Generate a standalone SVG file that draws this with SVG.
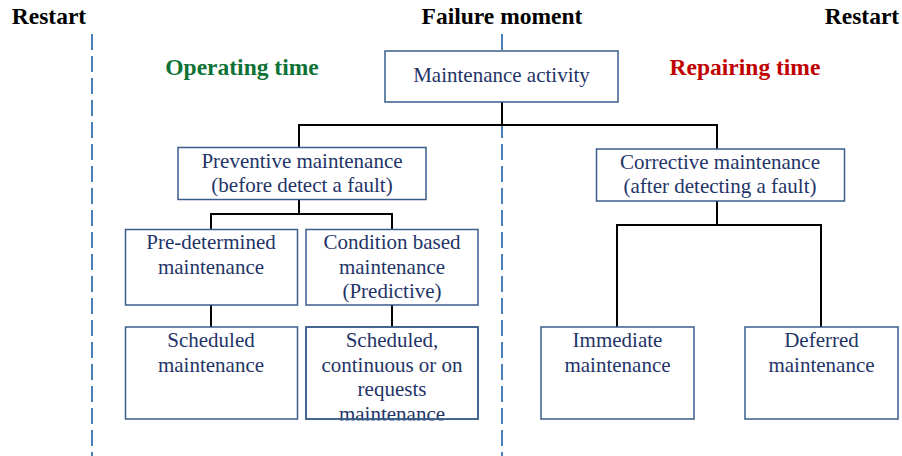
<svg xmlns="http://www.w3.org/2000/svg" width="902" height="456" viewBox="0 0 902 456">
<style>
.box{fill:#fff;stroke:#385D8A;stroke-width:1.5}
.t{font-family:"Liberation Serif","Times New Roman",serif;font-size:21px;fill:#1F3468;text-anchor:middle}
.h{font-family:"Liberation Serif","Times New Roman",serif;font-size:23.5px;font-weight:bold;text-anchor:middle}
.dash{stroke:#4A7EBB;stroke-width:2;stroke-dasharray:16 6;fill:none}
.conn{stroke:#000;stroke-width:2;fill:none}
</style>
<defs>
<clipPath id="clipB"><rect x="300" y="320" width="190" height="100.5"/></clipPath>
</defs>
<rect width="902" height="456" fill="#fff"/>
<g id="timeline">
<line class="dash" x1="92" y1="34" x2="92" y2="456"/>
<line class="dash" x1="502" y1="34" x2="502" y2="456"/>
</g>
<g id="labels">
<text class="h" x="49" y="24" fill="#000">Restart</text>
<text class="h" x="502" y="24" fill="#000">Failure moment</text>
<text class="h" x="862" y="24" fill="#000">Restart</text>
<text class="h" x="242" y="75" fill="#0E7236">Operating time</text>
<text class="h" x="745" y="75" fill="#C00000">Repairing time</text>
</g>
<g id="connectors">
<polyline class="conn" points="502,102 502,125"/>
<polyline class="conn" points="299,148 299,125 717,125 717,150"/>
<polyline class="conn" points="299,199 299,214"/>
<polyline class="conn" points="211,229 211,214 392,214 392,229"/>
<polyline class="conn" points="211,305 211,327"/>
<polyline class="conn" points="392,305 392,327"/>
<polyline class="conn" points="717,201 717,225"/>
<polyline class="conn" points="617,327 617,225 821,225 821,327"/>
</g>
<g id="maintenance-activity">
<rect class="box" x="385" y="51" width="233" height="51"/>
<text class="t" x="501.5" y="82">Maintenance activity</text>
</g>
<g id="preventive">
<rect class="box" x="178" y="147.5" width="248" height="52"/>
<text class="t" x="302" y="168">Preventive maintenance</text>
<text class="t" x="302" y="192">(before detect a fault)</text>
</g>
<g id="corrective">
<rect class="box" x="596.5" y="149" width="248" height="52"/>
<text class="t" x="720" y="169">Corrective maintenance</text>
<text class="t" x="720" y="193">(after detecting a fault)</text>
</g>
<g id="predetermined">
<rect class="box" x="125.5" y="229.5" width="172" height="75.5"/>
<text class="t" x="211" y="249">Pre-determined</text>
<text class="t" x="211" y="274">maintenance</text>
</g>
<g id="condition-based">
<rect class="box" x="306" y="229.5" width="172" height="75.5"/>
<text class="t" x="392" y="249">Condition based</text>
<text class="t" x="392" y="274">maintenance</text>
<text class="t" x="392" y="298">(Predictive)</text>
</g>
<g id="scheduled">
<rect class="box" x="125.5" y="327" width="172" height="92"/>
<text class="t" x="211" y="347">Scheduled</text>
<text class="t" x="211" y="372">maintenance</text>
</g>
<g id="scheduled-continuous">
<rect class="box" x="306" y="327" width="172" height="92"/>
<g clip-path="url(#clipB)">
<text class="t" x="392" y="347">Scheduled,</text>
<text class="t" x="392" y="372">continuous or on</text>
<text class="t" x="392" y="396">requests</text>
<text class="t" x="392" y="421">maintenance</text>
</g>
<rect x="306" y="327" width="172" height="92" fill="none" stroke="#385D8A" stroke-width="1.5"/>
</g>
<g id="immediate">
<rect class="box" x="541" y="327" width="153" height="92"/>
<text class="t" x="617.5" y="347">Immediate</text>
<text class="t" x="617.5" y="372">maintenance</text>
</g>
<g id="deferred">
<rect class="box" x="745" y="327" width="153" height="92"/>
<text class="t" x="821.5" y="347">Deferred</text>
<text class="t" x="821.5" y="372">maintenance</text>
</g>
</svg>
